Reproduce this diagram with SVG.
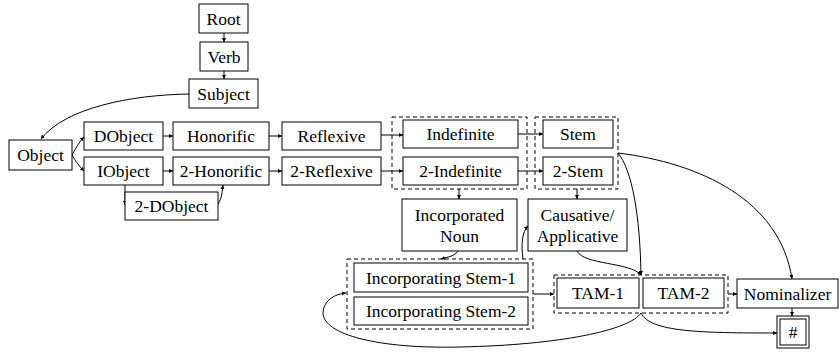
<svg xmlns="http://www.w3.org/2000/svg" width="840" height="354" viewBox="0 0 840 354">
<style>
.n rect{fill:#fff;stroke:#000;stroke-width:1}
.n text{font-family:"Liberation Serif","Times New Roman",serif;font-size:17.5px;text-anchor:middle;fill:#000}
.c{fill:none;stroke:#000;stroke-width:1;stroke-dasharray:4 3}
#edges path{fill:none;stroke:#000;stroke-width:1;marker-end:url(#ah)}
</style>
<defs>
<marker id="ah" viewBox="0 0 10 10" refX="10" refY="5" markerWidth="4" markerHeight="4" markerUnits="userSpaceOnUse" orient="auto">
<path d="M0,0 L10,5 L0,10 z" fill="#000"/>
</marker>
</defs>
<rect width="840" height="354" fill="#fff"/>
<g id="clusters">
<rect class="c" x="392" y="117" width="135" height="72"/>
<rect class="c" x="535" y="117" width="83" height="72"/>
<rect class="c" x="347" y="259" width="186" height="70"/>
<rect class="c" x="554" y="275" width="174" height="38"/>
</g>
<g id="edges">
<path d="M224,33 L224,42"/>
<path d="M224,71 L224,79"/>
<path d="M189,94 C130,95 65,108 41,139"/>
<path d="M72,155 C76,148 79,142 84,137"/>
<path d="M72,155 C76,162 79,166 84,171"/>
<path d="M163,136 L173,136"/>
<path d="M269,136 L282,136"/>
<path d="M381,135 L403,135"/>
<path d="M163,171 L173,171"/>
<path d="M269,171 L282,171"/>
<path d="M381,171 L403,171"/>
<path d="M125,185 L125,205"/>
<path d="M218,204 C222,198 222,192 223,185"/>
<path d="M518,134 L543,134"/>
<path d="M518,171 L543,171"/>
<path d="M459,189 L459,199"/>
<path d="M577,189 L577,199"/>
<path d="M458,251 C455,256 448,257 441,259"/>
<path d="M523,259 C521,244 522,232 528,226"/>
<path d="M618,153 C700,163 780,200 792,279"/>
<path d="M618,153 C632,170 640,215 641,275"/>
<path d="M577,251 C584,265 630,262 641,275"/>
<path d="M533,294 L554,294"/>
<path d="M728,294 L737,294"/>
<path d="M792,308 L792,316"/>
<path d="M641,313 C650,332 700,333 777,333"/>
<path d="M641,313 C630,330 560,345 460,347 C380,349 322,335 323,312 C324,300 335,294 346,293"/>
</g>
<g id="root" class="n"><rect x="199" y="4" width="49" height="29"/><text x="223.5" y="24.5">Root</text></g>
<g id="verb" class="n"><rect x="200" y="42" width="48" height="29"/><text x="224" y="62.5">Verb</text></g>
<g id="subject" class="n"><rect x="189" y="79" width="69" height="29"/><text x="223.5" y="99.5">Subject</text></g>
<g id="object" class="n"><rect x="9" y="140" width="63" height="30"/><text x="40.5" y="161">Object</text></g>
<g id="dobject" class="n"><rect x="84" y="122" width="79" height="28"/><text x="123.5" y="142">DObject</text></g>
<g id="iobject" class="n"><rect x="84" y="157" width="79" height="28"/><text x="123.5" y="177">IObject</text></g>
<g id="honorific" class="n"><rect x="173" y="122" width="96" height="28"/><text x="221" y="142">Honorific</text></g>
<g id="honorific2" class="n"><rect x="173" y="157" width="96" height="28"/><text x="221" y="177">2-Honorific</text></g>
<g id="reflexive" class="n"><rect x="282" y="122" width="99" height="28"/><text x="331.5" y="142">Reflexive</text></g>
<g id="reflexive2" class="n"><rect x="282" y="157" width="99" height="28"/><text x="331.5" y="177">2-Reflexive</text></g>
<g id="dobject2" class="n"><rect x="125" y="192" width="93" height="28"/><text x="171.5" y="212">2-DObject</text></g>
<g id="indefinite" class="n"><rect x="403" y="120" width="115" height="28"/><text x="460.5" y="140">Indefinite</text></g>
<g id="indefinite2" class="n"><rect x="403" y="157" width="115" height="28"/><text x="460.5" y="177">2-Indefinite</text></g>
<g id="stem" class="n"><rect x="543" y="120" width="70" height="28"/><text x="578" y="140">Stem</text></g>
<g id="stem2" class="n"><rect x="543" y="157" width="70" height="28"/><text x="578" y="177">2-Stem</text></g>
<g id="incnoun" class="n"><rect x="402" y="199" width="115" height="52"/><text x="459.5" y="221">Incorporated</text><text x="459.5" y="242">Noun</text></g>
<g id="causative" class="n"><rect x="528" y="199" width="99" height="52"/><text x="577.5" y="221">Causative/</text><text x="577.5" y="242">Applicative</text></g>
<g id="incstem1" class="n"><rect x="354" y="263" width="174" height="29"/><text x="441" y="283.5">Incorporating Stem-1</text></g>
<g id="incstem2" class="n"><rect x="354" y="297" width="174" height="28"/><text x="441" y="317">Incorporating Stem-2</text></g>
<g id="tam1" class="n"><rect x="557" y="278" width="82" height="30"/><text x="598" y="299">TAM-1</text></g>
<g id="tam2" class="n"><rect x="643" y="278" width="81" height="30"/><text x="683.5" y="299">TAM-2</text></g>
<g id="nominalizer" class="n"><rect x="737" y="279" width="101" height="29"/><text x="787.5" y="299.5">Nominalizer</text></g>
<g id="end" class="n"><rect x="777" y="316" width="32" height="32"/><rect x="780" y="319" width="26" height="26"/><text x="793" y="338">#</text></g>
</svg>
